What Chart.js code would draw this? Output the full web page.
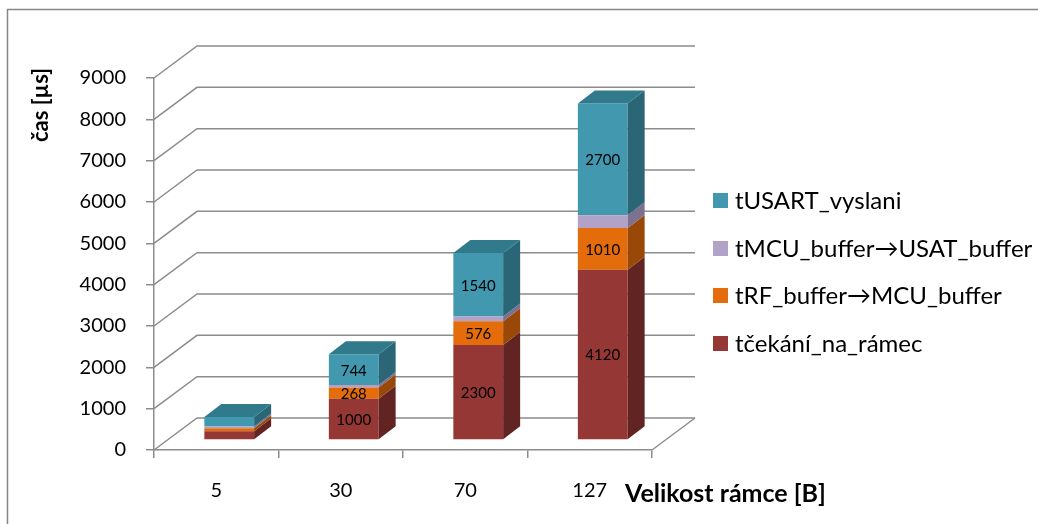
<!DOCTYPE html>
<html>
<head>
<meta charset="utf-8">
<script src="https://cdn.jsdelivr.net/npm/chart.js@4/dist/chart.umd.min.js"></script>
<style>
  html, body { margin: 0; padding: 0; background: #fff; }
  #wrap { width: 1038px; height: 524px; position: relative; }
</style>
</head>
<body>
<div id="wrap"><canvas id="chart" width="1038" height="524"></canvas></div>
<script>
// --- Data ---
const categories = ['5', '30', '70', '127'];
const tCekani = [210, 1000, 2300, 4120];
const tRfBuffer = [75, 268, 576, 1010];
const tMcuBuffer = [40, 60, 110, 310];
const tUsart = [230, 744, 1540, 2700];
const seriesNames = ['tčekání_na_rámec', 'tRF_buffer→MCU_buffer', 'tMCU_buffer→USAT_buffer', 'tUSART_vyslani'];
const yMax = 9000;
const yStep = 1000;
const labelledSeries = [0, 1, 3];

// --- Styles ---
const frontColors = ['#953735', '#E46C0A', '#B3A2C7', '#4198AF'];
const sideColors = ['#622423', '#9A4807', '#7D7190', '#2B6676'];
const topColor = '#317A8B';
const lineColor = '#8c8c8c';
const FONT = 'Lato, "Open Sans", sans-serif';

// 3D geometry (oblique projection)
const WALL_DX = 43, WALL_DY = -32;   // back wall offset
const FRONT_DX = 13, FRONT_DY = -10; // bar front face offset
const BAR_DX = 17, BAR_DY = -13;     // bar depth

const plot3d = {
    id: 'plot3d',
    beforeDatasetsDraw(chart) {
        const { ctx, chartArea: a, scales: { y } } = chart;
        ctx.save();
        ctx.strokeStyle = lineColor;
        ctx.lineWidth = 1.5;
        for (let v = 0; v <= yMax; v += yStep) {
            const py = y.getPixelForValue(v);
            ctx.beginPath();
            ctx.moveTo(a.left, py);
            ctx.lineTo(a.left + WALL_DX, py + WALL_DY);
            ctx.lineTo(a.right + WALL_DX, py + WALL_DY);
            ctx.stroke();
        }
        // floor right edge
        ctx.beginPath();
        ctx.moveTo(a.right, a.bottom);
        ctx.lineTo(a.right + WALL_DX, a.bottom + WALL_DY);
        ctx.stroke();
        ctx.restore();

        // shift bar front faces into the middle of the depth
        ctx.save();
        ctx.translate(FRONT_DX, FRONT_DY);
    },
    afterDatasetsDraw(chart) {
        const ctx = chart.ctx;
        ctx.restore();
        const n = chart.data.datasets.length;
        for (let i = 0; i < n; i++) {
            const meta = chart.getDatasetMeta(i);
            meta.data.forEach(bar => {
                const xr = bar.x + bar.width / 2 + FRONT_DX;
                const xl = bar.x - bar.width / 2 + FRONT_DX;
                const yt = bar.y + FRONT_DY;
                const yb = bar.base + FRONT_DY;
                ctx.fillStyle = sideColors[i];
                ctx.beginPath();
                ctx.moveTo(xr, yt);
                ctx.lineTo(xr + BAR_DX, yt + BAR_DY);
                ctx.lineTo(xr + BAR_DX, yb + BAR_DY);
                ctx.lineTo(xr, yb);
                ctx.closePath();
                ctx.fill();
                if (i === n - 1) {
                    ctx.fillStyle = topColor;
                    ctx.beginPath();
                    ctx.moveTo(xl, yt);
                    ctx.lineTo(xl + BAR_DX, yt + BAR_DY);
                    ctx.lineTo(xr + BAR_DX, yt + BAR_DY);
                    ctx.lineTo(xr, yt);
                    ctx.closePath();
                    ctx.fill();
                }
            });
        }
        // data labels
        ctx.save();
        ctx.fillStyle = '#000';
        ctx.font = '15px ' + FONT;
        ctx.textAlign = 'center';
        ctx.textBaseline = 'middle';
        labelledSeries.forEach(i => {
            const meta = chart.getDatasetMeta(i);
            meta.data.forEach((bar, j) => {
                if (Math.abs(bar.base - bar.y) < 10) return;
                const val = chart.data.datasets[i].data[j];
                ctx.fillText(String(val), bar.x + FRONT_DX, (bar.y + bar.base) / 2 + FRONT_DY + 1);
            });
        });
        ctx.restore();
    },
    afterDraw(chart) {
        const ctx = chart.ctx;
        ctx.save();
        // outer frame
        ctx.strokeStyle = '#868686';
        ctx.lineWidth = 1.5;
        ctx.strokeRect(7.5, 9.5, 1040, 530);

        // axis titles
        ctx.fillStyle = '#000';
        ctx.font = 'bold 25px ' + FONT;
        ctx.textBaseline = 'middle';
        ctx.textAlign = 'left';
        ctx.fillText('Velikost rámce [B]', 625, 494);
        ctx.save();
        ctx.font = 'bold 22px ' + FONT;
        ctx.translate(41, 105);
        ctx.rotate(-Math.PI / 2);
        ctx.textAlign = 'center';
        ctx.fillText('čas [µs]', 0, 0);
        ctx.restore();

        // legend (reverse order, like Excel)
        ctx.font = '24px ' + FONT;
        const legendY = [200, 248, 295, 343];
        const n = chart.data.datasets.length;
        for (let k = 0; k < n; k++) {
            const i = n - 1 - k;
            ctx.fillStyle = frontColors[i];
            ctx.fillRect(713, legendY[k] - 7, 15, 15);
            ctx.fillStyle = '#000';
            ctx.fillText(chart.data.datasets[i].label, 735, legendY[k] + 1);
        }
        ctx.restore();
    }
};

const seriesData = [tCekani, tRfBuffer, tMcuBuffer, tUsart];

new Chart(document.getElementById('chart'), {
    type: 'bar',
    data: {
        labels: categories,
        datasets: seriesData.map((d, i) => ({
            label: seriesNames[i],
            data: d,
            backgroundColor: frontColors[i],
            borderWidth: 0,
            categoryPercentage: 1,
            barPercentage: 0.4,
            clip: false
        }))
    },
    options: {
        responsive: false,
        animation: false,
        layout: { padding: { left: 0, top: 78, right: 386, bottom: 0 } },
        plugins: {
            legend: { display: false },
            tooltip: { enabled: false }
        },
        scales: {
            x: {
                stacked: true,
                afterFit: s => { s.height = 74; },
                grid: { drawOnChartArea: false, drawTicks: true, tickLength: 8, color: lineColor, lineWidth: 1.5, offset: true },
                border: { display: true, color: lineColor, width: 1.5 },
                ticks: { color: '#000', font: { family: FONT, size: 20 }, padding: 21, maxRotation: 0 }
            },
            y: {
                stacked: true,
                min: 0,
                max: yMax,
                afterFit: s => { s.width = 154; },
                grid: { drawOnChartArea: false, drawTicks: true, tickLength: 8, color: lineColor, lineWidth: 1.5 },
                border: { display: true, color: lineColor, width: 1.5 },
                ticks: { stepSize: yStep, color: '#000', font: { family: FONT, size: 20 }, padding: 20,
                         callback: v => String(v) }
            }
        }
    },
    plugins: [plot3d]
});
</script>
</body>
</html>
